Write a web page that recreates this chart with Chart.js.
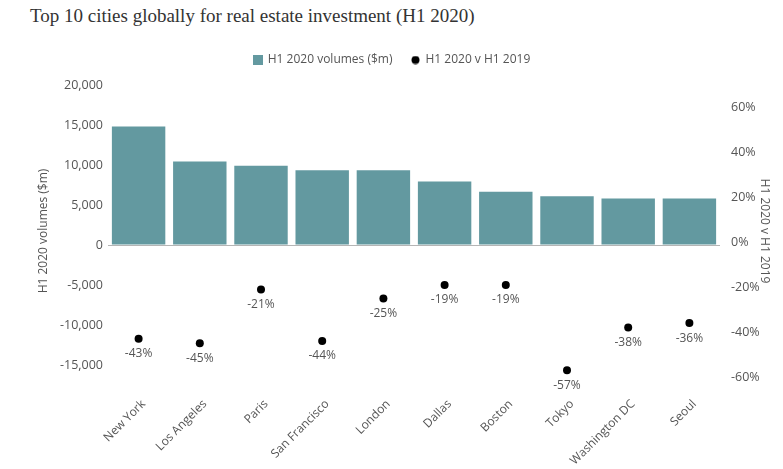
<!DOCTYPE html>
<html><head><meta charset="utf-8">
<script src="https://cdn.jsdelivr.net/npm/chart.js@4.4.0/dist/chart.umd.min.js"></script>
<style>
html,body{margin:0;padding:0;background:#fff;}
#wrap{position:relative;width:783px;height:469px;overflow:hidden;}
#title{position:absolute;left:30px;top:4px;font:19px/24px "Liberation Serif",serif;color:#333;white-space:nowrap;}
canvas{position:absolute;left:0;top:0;}
</style></head><body>
<div id="wrap"><div id="title">Top 10 cities globally for real estate investment (H1 2020)</div><canvas id="c" width="783" height="469"></canvas></div>
<script>
const cities = ['New York','Los Angeles','Paris','San Francisco','London','Dallas','Boston','Tokyo','Washington DC','Seoul'];
const volumes = [14800, 10450, 9900, 9350, 9350, 7950, 6650, 6100, 5800, 5800];
const changePct = [-43, -45, -21, -44, -25, -19, -19, -57, -38, -36];
const volumeTicks = [-15000, -10000, -5000, 0, 5000, 10000, 15000, 20000];
const pctTicks = [-60, -40, -20, 0, 20, 40, 60];

const teal = '#6399a0';
const grey = '#555';
const FONT = 'Open Sans';
Chart.defaults.font.family = FONT;

const sq = document.createElement('canvas'); sq.width = 10; sq.height = 10;
{ const g = sq.getContext('2d'); g.fillStyle = teal; g.fillRect(0, 0, 10, 10); }
const dotImg = document.createElement('canvas'); dotImg.width = 9; dotImg.height = 9;
{ const g = dotImg.getContext('2d'); g.fillStyle = '#000'; g.beginPath(); g.arc(4.5, 4.5, 4, 0, Math.PI * 2); g.fill(); }

const LDX = -12, LDY = -9;
const legendShift = { id: 'legendShift', afterLayout(chart) {
  const l = chart.legend; if (!l) return;
  l.left += LDX; l.right += LDX; l.top += LDY; l.bottom += LDY;
} };
const dotLabels = { id: 'dotLabels', afterDatasetsDraw(chart) {
  const meta = chart.getDatasetMeta(1); const ctx = chart.ctx;
  ctx.save(); ctx.font = '12px "' + FONT + '"'; ctx.fillStyle = grey;
  ctx.textAlign = 'center'; ctx.textBaseline = 'middle';
  meta.data.forEach((pt, i) => ctx.fillText(changePct[i] + '%', pt.x, pt.y + 15));
  ctx.restore();
} };

new Chart(document.getElementById('c'), {
  data: {
    labels: cities,
    datasets: [
      { type: 'bar', label: 'H1 2020 volumes ($m)', data: volumes, yAxisID: 'yVol',
        backgroundColor: teal, barPercentage: 0.873, categoryPercentage: 1 },
      { type: 'line', label: 'H1 2020 v H1 2019', data: changePct, yAxisID: 'yPct',
        showLine: false, pointRadius: 4, pointHoverRadius: 4, pointBackgroundColor: '#000',
        pointBorderWidth: 0, borderColor: '#000', backgroundColor: '#000' }
    ]
  },
  options: {
    responsive: false, animation: false,
    layout: { padding: { top: 44, left: 36, right: 11, bottom: 0 } },
    plugins: {
      tooltip: { enabled: false },
      legend: {
        position: 'top',
        labels: {
          usePointStyle: true, boxWidth: 8, boxHeight: 8, padding: 19, color: grey,
          font: { family: FONT, size: 12 },
          generateLabels(chart) {
            const items = Chart.defaults.plugins.legend.labels.generateLabels(chart);
            items.forEach((it, i) => { it.pointStyle = i === 0 ? sq : dotImg; });
            return items;
          }
        }
      }
    },
    scales: {
      x: {
        grid: { display: false }, border: { display: false },
        ticks: { color: grey, font: { size: 12 }, minRotation: 45, maxRotation: 45, padding: 12, labelOffset: 5, autoSkip: false },
        afterFit(s) { s.height = 92; }
      },
      yVol: {
        position: 'left', min: -16500, max: 20000,
        afterBuildTicks(s) { s.ticks = volumeTicks.map(v => ({ value: v })); },
        ticks: { callback: v => Number(v).toLocaleString('en-US'), color: grey, font: { size: 12.5 }, padding: 5 },
        grid: { drawTicks: false, lineWidth: 1, color: c => (c.tick && c.tick.value === 0) ? '#b5b5b5' : 'rgba(0,0,0,0)' },
        border: { display: false },
        title: { display: true, text: 'H1 2020 volumes ($m)', color: grey, font: { size: 12 }, padding: 0 },
        afterFit(s) { s.width = 72; }
      },
      yPct: {
        position: 'right', min: -60, max: 70,
        afterBuildTicks(s) { s.ticks = pctTicks.map(v => ({ value: v })); },
        ticks: { callback: v => v + '%', color: grey, font: { size: 12.5 }, padding: 3 },
        grid: { display: false }, border: { display: false },
        title: { display: true, text: 'H1 2020 v H1 2019', color: grey, font: { size: 12 }, padding: 0 },
        afterFit(s) { s.width = 52; }
      }
    }
  },
  plugins: [legendShift, dotLabels]
});
</script>
</body></html>
